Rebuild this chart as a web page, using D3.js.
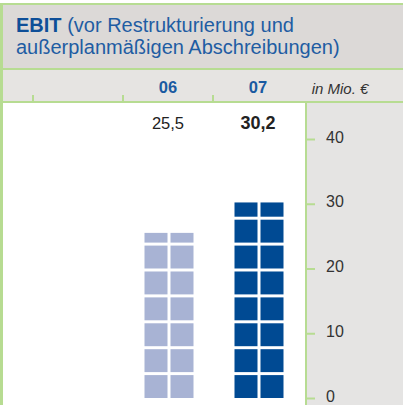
<!DOCTYPE html>
<html>
<head>
<meta charset="utf-8">
<script src="https://cdn.jsdelivr.net/npm/d3@7"></script>
<style>
  html, body { margin: 0; padding: 0; background: #fff; }
  svg { display: block; font-family: 'Liberation Sans', Arial, sans-serif; }
</style>
</head>
<body>
<svg width="403" height="405"></svg>
<script>
// ---- Daten
const jahre = ['06', '07'];
const werte = [25.5, 30.2];
const werteLabels = ['25,5', '30,2'];
const yTicks = [0, 10, 20, 30, 40];
const titelZeilen = ['(vor Restrukturierung und', 'außerplanmäßigen Abschreibungen)'];
const einheit = 'in Mio. €';

const gruen = '#b7dc92';
const blauDunkel = '#004a93';
const blauHell = '#a8b3d4';

const svg = d3.select('svg');
const W = 403, H = 405;

// ---- Hintergründe
svg.append('rect').attr('x', 0).attr('y', 0).attr('width', W).attr('height', H).attr('fill', '#fff');
svg.append('rect').attr('x', 3).attr('y', 5).attr('width', W - 3).attr('height', 64).attr('fill', '#dcd9d7');
svg.append('rect').attr('x', 3).attr('y', 70).attr('width', W - 3).attr('height', 32).attr('fill', '#e6e4e2');
svg.append('rect').attr('x', 307).attr('y', 103).attr('width', W - 307).attr('height', H - 103).attr('fill', '#e5e4e3');

// Grüne Linien
svg.append('rect').attr('x', 0).attr('y', 3).attr('width', 3).attr('height', H - 3).attr('fill', gruen);
svg.append('rect').attr('x', 0).attr('y', 3).attr('width', W).attr('height', 2).attr('fill', gruen);
svg.append('rect').attr('x', 0).attr('y', 68).attr('width', W).attr('height', 2).attr('fill', gruen);
svg.append('rect').attr('x', 0).attr('y', 101).attr('width', W).attr('height', 2).attr('fill', gruen);

// ---- Titel
const titel = svg.append('text')
    .attr('x', 16)
    .attr('y', 32)
    .style('font-size', '20px')
    .style('fill', '#1f5da3');
titel.append('tspan').style('font-weight', 'bold').style('fill', '#0e4f98').text('EBIT ');
titel.append('tspan').text(titelZeilen[0]);
svg.append('text')
    .attr('x', 16)
    .attr('y', 54)
    .style('font-size', '20px')
    .style('fill', '#1f5da3')
    .text(titelZeilen[1]);

// ---- Skalen
const x = d3.scaleBand()
    .domain(jahre)
    .range([123, 303])
    .padding(0);

const y = d3.scaleLinear()
    .domain([0, 40])
    .range([398, 139]);

// Kopfzeile: Jahre
svg.selectAll('.jahr')
    .data(jahre)
    .join('text')
    .attr('class', 'jahr')
    .attr('x', d => x(d) + x.bandwidth() / 2)
    .attr('y', 93)
    .attr('text-anchor', 'middle')
    .style('font-size', '16.5px')
    .style('font-weight', 'bold')
    .style('fill', '#1a5aa1')
    .text(d => d);

svg.append('text')
    .attr('x', 340)
    .attr('y', 94)
    .attr('text-anchor', 'middle')
    .style('font-size', '15px')
    .style('font-style', 'italic')
    .style('fill', '#333')
    .text(einheit);

// kleine Striche in der Kopfzeile
const strichX = [x(jahre[0]) - x.step()].concat(jahre.map(d => x(d)));
svg.selectAll('.kopfstrich')
    .data(strichX)
    .join('rect')
    .attr('class', 'kopfstrich')
    .attr('x', d => d - 1)
    .attr('y', 95)
    .attr('width', 2)
    .attr('height', 7)
    .attr('fill', gruen);

// ---- Werte über den Säulen
svg.selectAll('.wert')
    .data(jahre)
    .join('text')
    .attr('class', 'wert')
    .attr('x', d => x(d) + x.bandwidth() / 2)
    .attr('y', 129)
    .attr('text-anchor', 'middle')
    .style('font-size', (d, i) => i === jahre.length - 1 ? '18px' : '16.5px')
    .style('font-weight', (d, i) => i === jahre.length - 1 ? 'bold' : 'normal')
    .style('fill', '#222')
    .text((d, i) => werteLabels[i]);

// ---- Säulen aus Kacheln (eine Reihe = 4 Einheiten)
const schritt = 4;
const kachelAnteil = 23 / 26;
const kachelB = 23, lueckeB = 3;

const kacheln = [];
jahre.forEach((j, i) => {
    const v = werte[i];
    for (let k = 0; k * schritt < v; k++) {
        const unten = k * schritt;
        const oben = Math.min(unten + schritt * kachelAnteil, v);
        for (let s = 0; s < 2; s++) {
            kacheln.push({ jahr: j, idx: i, unten, oben, spalte: s });
        }
    }
});

svg.selectAll('.kachel')
    .data(kacheln)
    .join('rect')
    .attr('class', 'kachel')
    .attr('x', d => x(d.jahr) + x.bandwidth() / 2 - (kachelB + lueckeB / 2) + 1 + d.spalte * (kachelB + lueckeB))
    .attr('y', d => y(d.oben))
    .attr('width', kachelB)
    .attr('height', d => y(d.unten) - y(d.oben))
    .attr('fill', d => d.idx === jahre.length - 1 ? blauDunkel : blauHell);

// ---- Achse rechts
const achse = svg.append('g')
    .attr('transform', 'translate(306,0)')
    .call(d3.axisRight(y).tickValues(yTicks).tickSize(9).tickPadding(11).tickFormat(d3.format('d')));

achse.select('.domain').remove();
achse.selectAll('.tick line').attr('stroke', gruen).attr('stroke-width', 2);
achse.selectAll('.tick text')
    .attr('dy', '0.2em')
    .style('font-size', '16px')
    .style('font-family', "'Liberation Sans', Arial, sans-serif")
    .attr('fill', '#333');

svg.append('rect').attr('x', 305).attr('y', 103).attr('width', 2).attr('height', H - 103).attr('fill', gruen);
</script>
</body>
</html>
